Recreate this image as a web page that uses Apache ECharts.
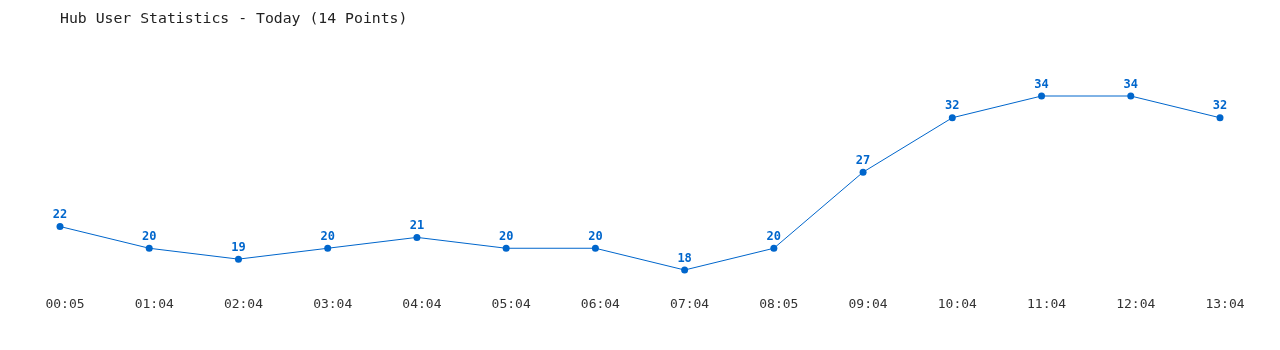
<!DOCTYPE html>
<html><head><meta charset="utf-8">
<script src="https://cdn.jsdelivr.net/npm/echarts@6/dist/echarts.min.js"></script>
<style>html,body{margin:0;padding:0;background:#fff}#c{width:1280px;height:350px}</style>
</head><body><div id="c"></div>
<script>
const categories = ["00:05","01:04","02:04","03:04","04:04","05:04","06:04","07:04","08:05","09:04","10:04","11:04","12:04","13:04"];
const users = [22,20,19,20,21,20,20,18,20,27,32,34,34,32];
const titleText = "Hub User Statistics - Today (14 Points)";

const chart = echarts.init(document.getElementById('c'));
chart.setOption({
  animation: false,
  backgroundColor: '#fff',
  title: {
    text: titleText, left: 55, top: 7,
    textStyle: {fontFamily: 'DejaVu Sans Mono', fontSize: 14.8, fontWeight: 'normal', color: '#222'}
  },
  grid: {left: 60, right: 60, top: 74.25, bottom: 58.25},
  xAxis: {
    type: 'category', data: categories, boundaryGap: false,
    axisLine: {show: false}, axisTick: {show: false}, splitLine: {show: false},
    axisLabel: {fontFamily: 'DejaVu Sans Mono', fontSize: 13, color: '#333', margin: 6, padding: [0,0,0,10]}
  },
  yAxis: {
    type: 'value', min: 16, max: 36, show: false, splitLine: {show: false}
  },
  series: [{
    type: 'line', data: users,
    symbol: 'circle', symbolSize: 7,
    lineStyle: {color: '#0066cc', width: 1},
    itemStyle: {color: '#0066cc'},
    label: {show: true, position: 'top', distance: 2, color: '#0066cc',
      fontFamily: 'DejaVu Sans Mono', fontSize: 12, fontWeight: 'bold'}
  }]
});
</script></body></html>
